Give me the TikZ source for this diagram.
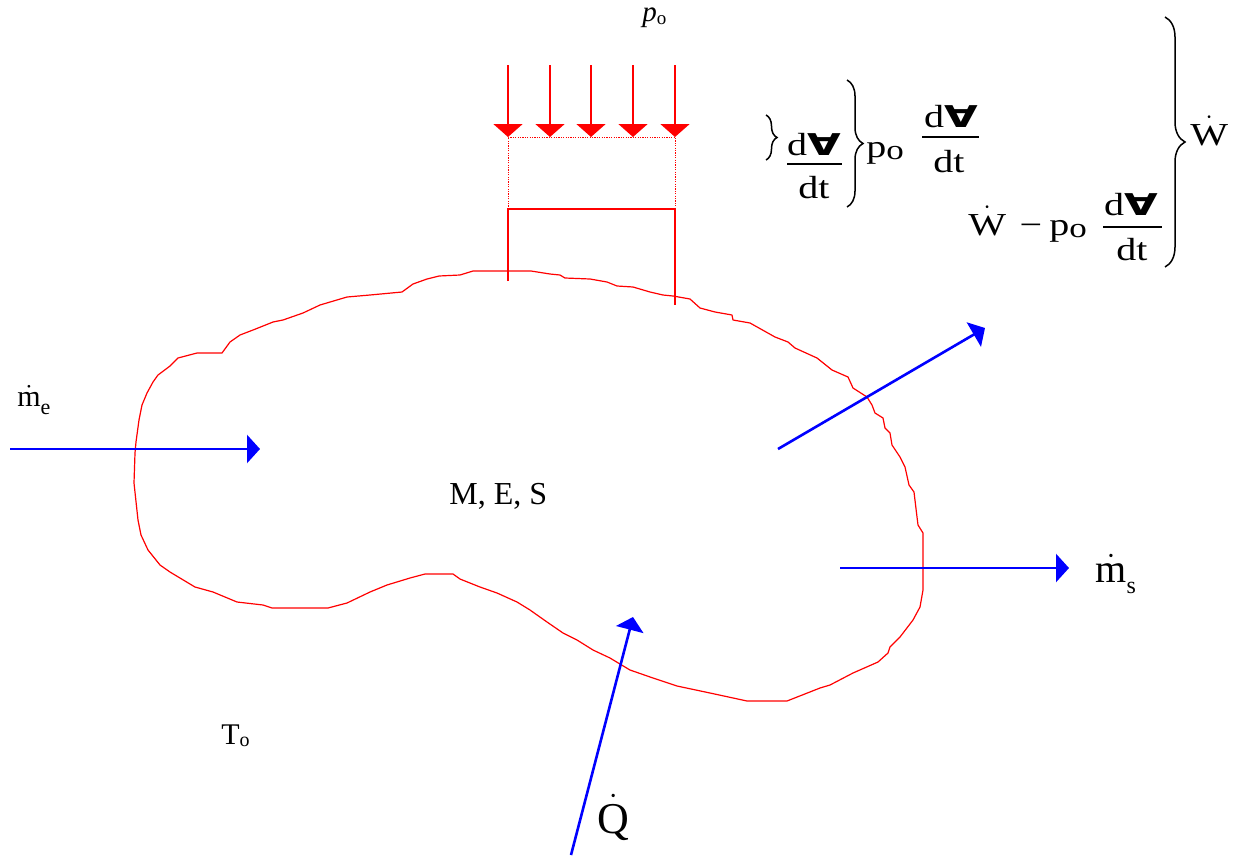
\documentclass[tikz,border=0pt]{standalone}
\usepackage{fontspec}
\setmainfont{Liberation Serif}
\newfontfamily\eqf{Liberation Serif}[FakeStretch=1.25]
\newfontfamily\volfont{DejaVu Sans Bold}
\usetikzlibrary{arrows.meta,decorations.pathreplacing}
\newcommand\fsz[1]{\fontsize{#1}{#1}\selectfont}
\newcommand\vol{\scalebox{1.45}[1]{\volfont\fsz{15}∀}}
\newcommand\dotac[1]{$\dot{\hbox{#1}}$}
\begin{document}
\begin{tikzpicture}[x=0.5pt,y=-0.5pt,
  lbl/.style={inner sep=0pt, anchor=base west},
  cen/.style={inner sep=0pt, anchor=base},
  blob/.style={draw=red, line width=0.6pt, line join=round},
  press/.style={red, line width=1pt, -{Triangle[width=14.5pt,length=6.5pt]}},
  flow/.style={blue, line width=1.3pt, -{Triangle[width=14pt,length=6.5pt]}},
  guide/.style={red, line width=0.5pt, dash pattern=on 0.6pt off 0.6pt},
  frame/.style={red, line width=0.65pt},
  fbar/.style={line width=0.65pt},
  brc/.style={decorate, decoration={brace, amplitude=#1, aspect=0.5}, line width=0.75pt}]
\useasboundingbox (0,0) rectangle (1236,857);

% control volume boundary
\draw[blob] (473,271) -- (508,271) -- (531,271) -- (550,274) -- (560,275) -- (565,278) -- (590,279) -- (607,282) -- (617,286) -- (633,287) -- (650,292) -- (663,295) -- (673,296) -- (690,299) -- (700,308) -- (715,312) -- (732,315) -- (733,320) -- (750,323) -- (775,337) -- (788,342) -- (795,348) -- (817,358) -- (832,370) -- (848,377) -- (853,388) -- (867,397) -- (872,405) -- (875,413) -- (883,418) -- (885,428) -- (890,433) -- (892,445) -- (900,457) -- (905,467) -- (909,485) -- (914,492) -- (917,517) -- (918,525) -- (923,533) -- (923,590) -- (920,607) -- (913,620) -- (900,637) -- (890,647) -- (888,653) -- (878,662) -- (853,673) -- (830,685) -- (820,688) -- (787,701) -- (747,701) -- (710,693) -- (677,686) -- (653,678) -- (630,670) -- (610,658) -- (593,650) -- (577,640) -- (563,633) -- (547,622) -- (530,610) -- (517,602) -- (497,593) -- (480,587) -- (460,579) -- (453,574) -- (425,574) -- (410,578) -- (387,585) -- (370,592) -- (347,603) -- (328,608) -- (272,608) -- (263,605) -- (237,602) -- (213,592) -- (195,587) -- (180,578) -- (170,572) -- (160,565) -- (148,550) -- (141,535) -- (138,520) -- (134,483) -- (135,453) -- (136,442) -- (139,420) -- (142,405) -- (147,393) -- (153,382) -- (158,375) -- (170,366) -- (178,358) -- (197,353) -- (222,353) -- (230,342) -- (240,335) -- (253,330) -- (273,322) -- (283,320) -- (303,313) -- (320,305) -- (347,297) -- (370,295) -- (402,292) -- (413,284) -- (427,279) -- (439,276) -- (460,275) -- cycle;

% pressure arrows
\foreach \x [count=\i] in {508,550,591,633,675} {
  \coordinate (pa\i) at (\x,65);
  \coordinate (pb\i) at (\x,137);
  \draw[press] (pa\i) -- (pb\i);
}
\coordinate (d1) at (508,137); \coordinate (d2) at (675,137);
\coordinate (f1) at (508,209); \coordinate (f2) at (675,209);
\coordinate (g1) at (508,281); \coordinate (g2) at (675,305);
\draw[guide] (f1) -- (d1) -- (d2) -- (f2);
\draw[frame] (g1) -- (f1) -- (f2) -- (g2);

% flows
\coordinate (me1) at (10,449);  \coordinate (me2) at (260,449);
\coordinate (ms1) at (840,568); \coordinate (ms2) at (1069,568);
\coordinate (w1) at (778,449);  \coordinate (w2) at (985,328);
\coordinate (q1) at (571,855);  \coordinate (q2) at (633,617);
\draw[flow] (me1) -- (me2);
\draw[flow] (ms1) -- (ms2);
\draw[flow] (w1) -- (w2);
\draw[flow] (q1) -- (q2);

% labels
\node[lbl] (po) at (642,21) {\fsz{14.5}\textit{p}\raisebox{-1.5pt}{\fsz{9.5}o}};
\node[lbl] (mes) at (449,504) {\fsz{16}M, E, S};
\node[lbl] (to) at (221,744) {\fsz{15}T\raisebox{-1pt}{\fsz{10}o}};
\node[lbl] (me) at (17,406) {\fsz{15}\dotac{m}\raisebox{-4pt}{\fsz{11}e}};
\node[lbl] (ms) at (1095,582) {\fsz{20}\dotac{m}\raisebox{-5.5pt}{\fsz{12}s}};
\node[lbl] (qd) at (597,833) {\fsz{22}\dotac{Q}};

% equations
\draw[brc=5.5pt] (766,115) -- (766,160);
\node[cen] (n1) at (814,155) {\eqf\fsz{16}d\vol};
\coordinate (b1a) at (787,164); \coordinate (b1b) at (842,164);
\draw[fbar] (b1a) -- (b1b);
\node[cen] (dn1) at (814,198) {\eqf\fsz{16}dt};
\draw[brc=8pt] (847,80) -- (847,207);
\node[lbl] (p1) at (866,157) {\eqf\fsz{16}p\raisebox{-1pt}{\fsz{14}o}};
\node[cen] (n2) at (951,127) {\eqf\fsz{16}d\vol};
\coordinate (b2a) at (922,137); \coordinate (b2b) at (979,137);
\draw[fbar] (b2a) -- (b2b);
\node[cen] (dn2) at (949,172) {\eqf\fsz{16}dt};

\node[lbl] (w2l) at (968,235) {\eqf\fsz{16}\dotac{W}};
\node[cen] (mn) at (1031,235) {\eqf\fsz{16}−};
\node[lbl] (p2) at (1049,235) {\eqf\fsz{16}p\raisebox{-1pt}{\fsz{14}o}};
\node[cen] (n3) at (1131,215) {\eqf\fsz{16}d\vol};
\coordinate (b3a) at (1103,227); \coordinate (b3b) at (1162,227);
\draw[fbar] (b3a) -- (b3b);
\node[cen] (dn3) at (1132,260) {\eqf\fsz{16}dt};

\draw[brc=10pt] (1165,17) -- (1165,267);
\node[lbl] (wr) at (1190,145) {\eqf\fsz{16}\dotac{W}};
\end{tikzpicture}
\end{document}
